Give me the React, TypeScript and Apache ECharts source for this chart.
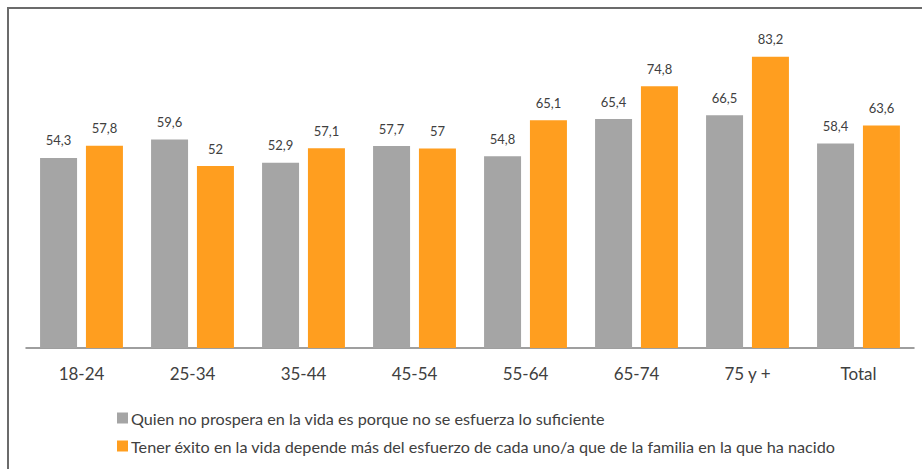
import React, { useEffect, useRef } from "react";
import * as echarts from "echarts";

const categories = ["18-24", "25-34", "35-44", "45-54", "55-64", "65-74", "75 y +", "Total"];
const seriesNames = [
  "Quien no prospera en la vida es porque no se esfuerza lo suficiente",
  "Tener éxito en la vida depende más del esfuerzo de cada uno/a que de la familia en la que ha nacido",
];
const grayValues = [54.3, 59.6, 52.9, 57.7, 54.8, 65.4, 66.5, 58.4];
const orangeValues = [57.8, 52, 57.1, 57, 65.1, 74.8, 83.2, 63.6];

const FONT = "Lato, 'Open Sans', sans-serif";

export default function App() {
  const ref = useRef<HTMLDivElement>(null);
  useEffect(() => {
    if (!ref.current) return;
    const chart = echarts.init(ref.current, null, { renderer: "svg" });
    const fmt = (p: any) => String(p.value).replace(".", ",");
    const label = {
      show: true,
      position: "top",
      distance: 11,
      color: "#404040",
      fontSize: 13,
      fontFamily: FONT,
      formatter: fmt,
    };
    chart.setOption({
      animation: false,
      textStyle: { fontFamily: FONT },
      graphic: [
        { type: "line", shape: { x1: 7, y1: 8, x2: 922, y2: 8 }, style: { stroke: "#6b6b6b", lineWidth: 2 } },
        { type: "line", shape: { x1: 8, y1: 7, x2: 8, y2: 469 }, style: { stroke: "#6b6b6b", lineWidth: 2 } },
      ],
      grid: { left: 26, right: 8, top: 33, bottom: 121 },
      legend: {
        orient: "vertical",
        left: 112,
        top: 405,
        itemWidth: 11,
        itemHeight: 11,
        itemGap: 12,
        icon: "rect",
        textStyle: { color: "#404040", fontSize: 16.2, fontFamily: FONT, padding: [0, 0, 0, -2] },
        data: seriesNames,
      },
      xAxis: {
        type: "category",
        data: categories,
        axisLine: { lineStyle: { color: "#7f7f7f", width: 1.5 } },
        axisTick: { show: false },
        axisLabel: { color: "#404040", fontSize: 17, margin: 17, fontFamily: FONT },
      },
      yAxis: { type: "value", min: 0, max: 90, show: false, splitLine: { show: false } },
      series: [
        {
          name: seriesNames[0],
          type: "bar",
          data: grayValues,
          barWidth: 37,
          barGap: "24%",
          itemStyle: { color: "#A5A5A5" },
          label,
        },
        {
          name: seriesNames[1],
          type: "bar",
          data: orangeValues,
          barWidth: 37,
          barGap: "24%",
          itemStyle: { color: "#FF9E1F" },
          label,
        },
      ],
    });
    return () => chart.dispose();
  }, []);
  return <div ref={ref} style={{ width: 922, height: 469, position: "absolute", left: 0, top: 0 }} />;
}
